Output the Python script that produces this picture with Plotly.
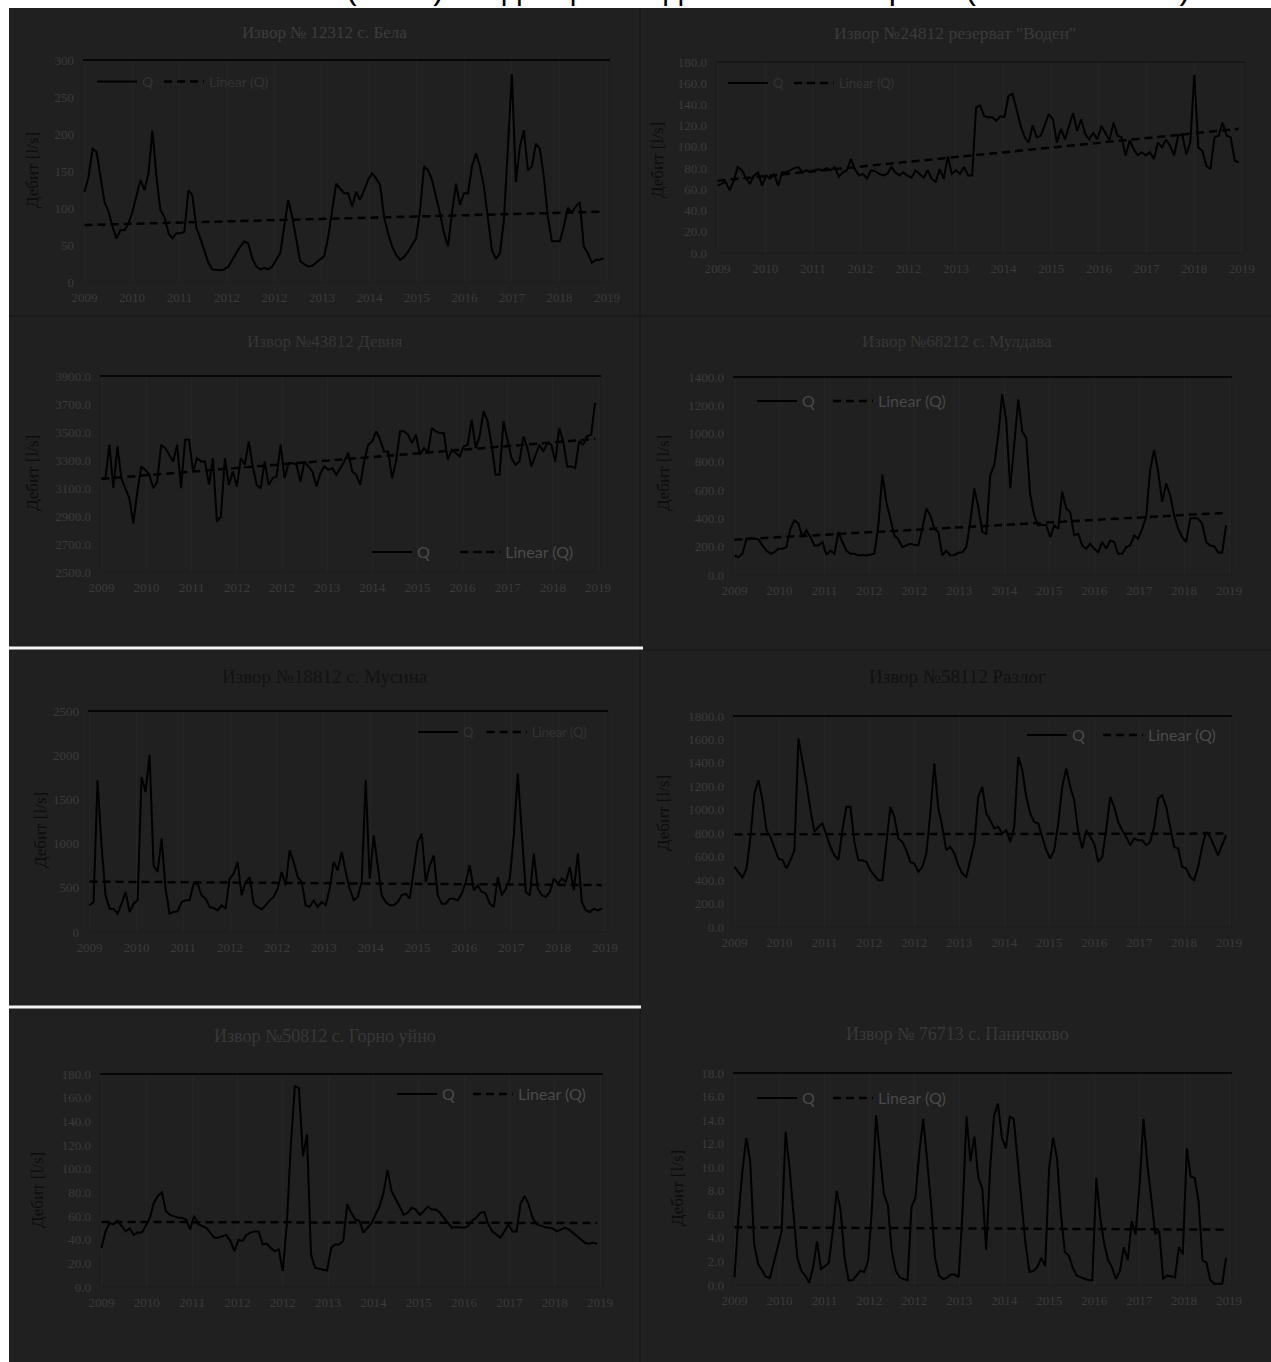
import numpy as np
import plotly.graph_objects as go

W, H = 1271, 1362

x_labels = ["2009", "2010", "2011", "2012", "2012", "2013", "2014", "2015", "2016", "2017", "2018", "2019"]
page_title = "Фиг. 26. Положителни (и без) тенденции на дебита на изворите (2009 – 2018 г.)"
y_title = "Дебит [l/s]"

titles = [
    "Извор № 12312 с. Бела",
    "Извор №24812 резерват \"Воден\"",
    "Извор №43812 Девня",
    "Извор №68212 с. Мулдава",
    "Извор №18812 с. Мусина",
    "Извор №58112 Разлог",
    "Извор №50812 с. Горно уйно",
    "Извор № 76713 с. Паничково",
]

q1 = [122, 142, 180, 176, 142, 108, 95, 75, 59, 70,
      70, 79, 95, 115, 138, 124, 147, 205, 142, 97,
      88, 66, 59, 66, 66, 68, 124, 117, 73, 59,
      43, 26, 17, 16, 16, 17, 21, 30, 39, 48,
      55, 52, 32, 21, 17, 19, 17, 21, 30, 39,
      75, 111, 88, 57, 28, 24, 21, 22, 26, 30,
      35, 61, 97, 133, 126, 120, 120, 102, 122, 111,
      124, 138, 147, 140, 131, 88, 66, 48, 37, 30,
      34, 41, 50, 59, 97, 156, 151, 138, 115, 93,
      66, 48, 93, 133, 104, 120, 120, 156, 174, 156,
      129, 88, 43, 31, 39, 84, 174, 281, 135, 183,
      205, 151, 156, 187, 180, 142, 88, 55, 55, 55,
      75, 100, 94, 102, 108, 48, 39, 26, 30, 30, 32]
q2 = [63.5, 65, 67, 59, 68, 81, 78, 71, 65, 73,
      76, 63.5, 73, 70, 74.5, 63.5, 76, 76, 78, 80,
      81, 76, 78, 76, 78, 79, 78, 80, 78, 81,
      72, 76, 78, 88.6, 79, 73, 74.5, 70, 78, 77,
      74.5, 73, 74.5, 81, 76, 73, 76, 73, 71, 78,
      74.5, 71, 78, 70, 67, 79, 70, 91, 74.5, 78,
      74.5, 81, 73, 73, 137, 139, 129, 128, 128, 124.6,
      129, 128, 148, 150, 135.5, 120, 109, 104, 120.5, 109,
      110.5, 120, 131, 126, 104, 117, 107, 120, 132, 115,
      126, 112, 107, 113.6, 107, 120, 113.6, 106, 123, 110.5,
      109, 92, 106, 98, 92, 95, 92, 95, 88.6, 104,
      99.5, 107, 101, 92, 110.5, 112, 93, 104, 168, 99.5,
      96, 82, 79, 109, 110.5, 123, 110.5, 109, 87, 85.5]
q3 = [3170, 3170, 3409, 3098, 3397, 3170, 3098, 3026, 2847, 3074,
      3254, 3230, 3194, 3098, 3146, 3409, 3385, 3337, 3290, 3409,
      3098, 3445, 3445, 3218, 3313, 3290, 3290, 3122, 3313, 2859,
      2895, 3313, 3122, 3218, 3110, 3313, 3266, 3433, 3254, 3122,
      3098, 3290, 3122, 3170, 3182, 3409, 3170, 3278, 3278, 3266,
      3146, 3290, 3254, 3218, 3110, 3206, 3254, 3230, 3242, 3194,
      3242, 3290, 3350, 3218, 3194, 3122, 3290, 3409, 3433, 3505,
      3445, 3361, 3361, 3170, 3290, 3505, 3505, 3481, 3421, 3481,
      3337, 3385, 3350, 3529, 3505, 3493, 3493, 3302, 3373, 3350,
      3326, 3397, 3409, 3589, 3385, 3469, 3649, 3577, 3409, 3194,
      3194, 3577, 3433, 3313, 3266, 3290, 3469, 3385, 3254, 3337,
      3409, 3361, 3421, 3409, 3290, 3529, 3433, 3254, 3254, 3242,
      3433, 3409, 3469, 3481, 3708]
q4 = [138, 126, 150, 256, 261, 256, 252, 209, 173, 150,
      161, 185, 185, 197, 327, 387, 363, 268, 316, 268,
      209, 209, 233, 142, 173, 150, 304, 233, 173, 150,
      150, 138, 142, 138, 142, 150, 351, 712, 517, 387,
      280, 252, 197, 209, 221, 214, 209, 327, 470, 422,
      327, 304, 138, 173, 138, 142, 157, 161, 197, 375,
      612, 482, 304, 292, 707, 778, 992, 1277, 1087, 612,
      944, 1241, 1016, 968, 565, 422, 351, 356, 351, 268,
      351, 327, 589, 470, 446, 280, 292, 209, 185, 221,
      185, 161, 233, 185, 244, 233, 150, 150, 197, 209,
      280, 256, 327, 411, 743, 885, 731, 517, 648, 565,
      422, 327, 268, 233, 399, 403, 399, 363, 233, 209,
      204, 161, 157, 351]
q5 = [302, 339, 1716, 980, 415, 264, 264, 207, 320, 452,
      226, 320, 358, 1753, 1584, 2006, 754, 679, 1056, 490,
      207, 226, 234, 339, 358, 358, 547, 547, 415, 377,
      283, 272, 245, 302, 264, 603, 660, 792, 415, 566,
      622, 320, 283, 256, 302, 358, 396, 490, 679, 528,
      924, 792, 622, 566, 302, 283, 358, 283, 339, 302,
      490, 792, 698, 905, 679, 490, 358, 396, 566, 1716,
      603, 1094, 754, 415, 339, 302, 302, 339, 415, 434,
      377, 717, 1018, 1112, 566, 754, 867, 415, 320, 320,
      377, 377, 358, 434, 566, 754, 471, 528, 452, 434,
      320, 283, 622, 415, 490, 603, 1094, 1791, 1094, 452,
      415, 886, 490, 415, 396, 452, 603, 547, 603, 566,
      735, 471, 886, 339, 245, 226, 264, 245, 264]
q6 = [513, 470, 421, 498, 769, 1139, 1253, 1082, 826, 769,
      684, 584, 570, 498, 570, 655, 1609, 1424, 1225, 997,
      812, 854, 883, 783, 684, 612, 570, 826, 1025, 1025,
      726, 570, 570, 555, 484, 441, 399, 399, 712, 1025,
      940, 755, 726, 655, 555, 541, 470, 513, 627, 968,
      1396, 1011, 854, 655, 684, 627, 527, 456, 427, 570,
      712, 1111, 1196, 968, 911, 840, 854, 797, 826, 726,
      854, 1452, 1339, 1111, 968, 897, 883, 769, 655, 584,
      655, 883, 1196, 1353, 1196, 1082, 812, 669, 826, 769,
      712, 555, 598, 826, 1111, 1025, 897, 826, 769, 698,
      755, 741, 741, 698, 726, 854, 1096, 1125, 1025, 854,
      684, 669, 513, 498, 427, 399, 513, 684, 812, 769,
      684, 612, 698, 783]
q7 = [33, 47, 54, 53, 56, 51, 47, 49.5, 44, 46,
      46, 51.5, 58.5, 71, 77, 80, 64, 61, 60, 58.5,
      58.5, 57, 48.7, 60, 53, 51.5, 50, 46, 41.6, 41.6,
      43, 44, 38.8, 30.4, 40, 38.8, 44, 46, 47, 47,
      36, 36.6, 33, 30.4, 31.8, 13.5, 53, 120, 169.6, 168,
      110.5, 128.8, 27.6, 16.3, 15.5, 15, 14, 33, 36, 36,
      38.8, 70, 62.7, 57, 56, 46, 50, 54, 61, 68,
      79.6, 99, 81, 75, 68, 61, 62.7, 67, 65.5, 61,
      64, 68, 65.5, 65.5, 62.7, 58.5, 54, 50, 50.6, 50.6,
      50, 51.5, 56, 58.5, 62.7, 63.5, 53, 47, 44, 41.6,
      47, 53, 47, 47, 70, 77, 70, 58.5, 53, 51.5,
      50.6, 50, 49.5, 47, 48.7, 50, 48.7, 46, 43, 40,
      37.4, 36.6, 37.4, 36.6]
q8 = [0.65, 5.7, 9.6, 12.5, 10.5, 3.5, 1.8, 1.2, 0.7, 0.6,
      1.8, 3.2, 4.6, 13.0, 9.9, 6.3, 2.3, 1.2, 0.8, 0.2,
      1.5, 3.7, 1.35, 1.6, 1.9, 4.6, 8.0, 6.3, 2.3, 0.4,
      0.4, 0.8, 1.2, 1.1, 2.1, 6.8, 14.4, 11.1, 7.7, 6.8,
      2.9, 1.2, 0.65, 0.5, 0.4, 6.6, 7.4, 11.3, 14.1, 10.5,
      6.8, 2.3, 0.8, 0.5, 0.6, 0.9, 0.9, 0.65, 6.3, 14.3,
      10.5, 12.6, 9.1, 8.2, 3.0, 9.9, 14.4, 15.4, 12.5, 11.6,
      14.3, 14.1, 10.5, 6.8, 3.5, 1.1, 1.2, 1.5, 2.3, 1.6,
      9.9, 12.5, 10.8, 6.0, 2.8, 2.5, 1.5, 0.8, 0.65, 0.5,
      0.4, 0.4, 9.1, 5.7, 3.5, 2.1, 1.5, 0.5, 1.2, 3.2,
      2.1, 5.4, 4.3, 8.5, 14.1, 10.2, 7.1, 4.3, 4.6, 0.5,
      0.8, 0.7, 0.65, 3.2, 2.6, 11.6, 9.2, 9.1, 7.1, 2.1,
      1.9, 0.4, 0.1, 0.1, 0.1, 2.3]

trend1 = [77, 95]
trend2 = [68, 117]
trend3 = [3165, 3450]
trend4 = [250, 440]
trend5 = [570, 530]
trend6 = [790, 797]
trend7 = [55, 54]
trend8 = [4.9, 4.7]

series = [q1, q2, q3, q4, q5, q6, q7, q8]
trends = [trend1, trend2, trend3, trend4, trend5, trend6, trend7, trend8]

# axis settings: (ymin, ymax, dtick, tickformat)
y_axes = [(0, 300, 50, "d"), (0, 180, 20, ".1f"), (2500, 3900, 200, ".1f"), (0, 1400, 200, ".1f"),
          (0, 2500, 500, "d"), (0, 1800, 200, ".1f"), (0, 180, 20, ".1f"), (0, 18, 2, ".1f")]

# ---------- layout (pixels) ----------
boxes = [(83, 610, 60, 282), (716, 1245, 62, 253), (100, 601, 376, 572), (733, 1232, 377, 575),
         (88, 608, 711, 932), (733, 1232, 716, 927), (100, 603, 1074, 1287), (733, 1232, 1073, 1285)]
title_pos = [(325, 33), (955, 33), (325, 341), (957, 341), (325, 676), (957, 676), (325, 1036), (957, 1034)]
title_size = [17, 17.5, 17, 17, 19, 19, 18, 18]
title_col = ["#3c3c3c", "#3a3a3a", "#363636", "#363636", "#121212", "#101010", "#383838", "#383838"]
ytitle_pos = [(33, 170), (657, 160), (33, 473), (664, 473), (40, 830), (663, 813), (37, 1190), (677, 1188)]
legend_pos = [(100, 82), (731, 83), (375, 552), (760, 401), (421, 732), (1030, 735), (400, 1094), (760, 1098)]
legend_col = ["#333333", "#333333", "#4a4a4a", "#484848", "#333333", "#4a4a4a", "#4a4a4a", "#4a4a4a"]
legend_size = [14, 13, 16, 16, 13, 16, 16, 16]
legend_gap = [0, 0, 5, 2, 1, 2, 2, 2]   # extra spacing after "Q" (non-breaking spaces)
top_line_col = ["#060606", "#181818", "#060606", "#060606", "#060606", "#060606", "#060606", "#060606"]

BG = "#202020"
TICK = "#3b3b3b"
SERIF = "Liberation Serif"


def px(x):
    return x / W


def py(y):
    return 1 - y / H


fig = go.Figure()
layout = dict(width=W, height=H, margin=dict(l=0, r=0, t=0, b=0, autoexpand=False),
              paper_bgcolor="white", plot_bgcolor="rgba(0,0,0,0)", showlegend=True)
shapes = []
annotations = []

shapes.append(dict(type="rect", xref="paper", yref="paper", x0=px(9), x1=1, y0=0, y1=py(8),
                   fillcolor=BG, line=dict(width=0), layer="below"))
shapes.append(dict(type="line", xref="paper", yref="paper", x0=px(640), x1=px(640), y0=0, y1=py(8),
                   line=dict(color="#1a1a1a", width=2), layer="below"))
shapes.append(dict(type="line", xref="paper", yref="paper", x0=px(9), x1=1, y0=py(316), y1=py(316),
                   line=dict(color="#1b1b1b", width=2), layer="below"))
shapes.append(dict(type="line", xref="paper", yref="paper", x0=px(643), x1=1, y0=py(650), y1=py(650),
                   line=dict(color="#1b1b1b", width=2), layer="below"))
shapes.append(dict(type="line", xref="paper", yref="paper", x0=px(9), x1=px(643), y0=py(648), y1=py(648),
                   line=dict(color="#f4f4f4", width=3), layer="below"))
shapes.append(dict(type="line", xref="paper", yref="paper", x0=px(9), x1=px(641), y0=py(1007), y1=py(1007),
                   line=dict(color="#f4f4f4", width=3), layer="below"))

for i in range(8):
    k = i + 1
    sfx = "" if k == 1 else str(k)
    xa, ya = "x" + sfx, "y" + sfx
    lg = "legend" + sfx
    q = series[i]
    n = len(q)
    xs = np.arange(n)
    x0, x1, yt, yb = boxes[i]
    ymin, ymax, dt, fmt = y_axes[i]

    fig.add_trace(go.Scatter(x=xs, y=q, mode="lines", name="Q" + "&nbsp;" * legend_gap[i],
                             xaxis=xa, yaxis=ya, legend=lg,
                             line=dict(color="black", width=2), hoverinfo="skip"))
    fig.add_trace(go.Scatter(x=[xs[0], xs[-1]], y=trends[i], mode="lines", name="Linear (Q)",
                             xaxis=xa, yaxis=ya, legend=lg,
                             line=dict(color="black", width=2.5, dash="8px,5px"), hoverinfo="skip"))

    tickvals = np.linspace(0, (n - 1) * 1.006, 12)
    layout["xaxis" + sfx] = dict(domain=[px(x0), px(x1)], anchor=ya, range=[-(n - 1) * 0.003, (n - 1) * 1.012],
                                 tickvals=tickvals, ticktext=x_labels, showgrid=True, gridcolor="#252525",
                                 gridwidth=1, zeroline=False, showline=False, ticks="", automargin=False,
                                 tickfont=dict(family=SERIF, size=13, color=TICK), ticklabelstandoff=6)
    layout["yaxis" + sfx] = dict(domain=[py(yb), py(yt)], anchor=xa, range=[ymin, ymax], dtick=dt, tick0=ymin,
                                 tickformat=fmt, showgrid=False, zeroline=False, showline=False, ticks="",
                                 automargin=False,
                                 tickfont=dict(family=SERIF, size=13, color=TICK), ticklabelstandoff=8)
    lx, ly = legend_pos[i]
    layout[lg] = dict(x=px(lx - 8), y=py(ly), xanchor="left", yanchor="middle", orientation="h",
                      bgcolor="rgba(0,0,0,0)",
                      font=dict(family="Lato", size=legend_size[i], color=legend_col[i]),
                      itemwidth=40, tracegroupgap=0)

    shapes.append(dict(type="rect", xref=xa + " domain", yref=ya + " domain", x0=0, x1=1, y0=0, y1=1,
                       line=dict(color="#1c1c1c", width=1), layer="below"))
    shapes.append(dict(type="line", xref=xa + " domain", yref=ya + " domain", x0=0, x1=1, y0=1, y1=1,
                       line=dict(color=top_line_col[i], width=2)))

    tx, ty = title_pos[i]
    annotations.append(dict(text=titles[i], xref="paper", yref="paper", x=px(tx), y=py(ty),
                            xanchor="center", yanchor="middle", showarrow=False,
                            font=dict(family=SERIF, size=title_size[i], color=title_col[i])))
    yx, yy = ytitle_pos[i]
    annotations.append(dict(text=y_title, xref="paper", yref="paper", x=px(yx), y=py(yy),
                            xanchor="center", yanchor="middle", showarrow=False, textangle=-90,
                            font=dict(family=SERIF, size=17, color="#0c0c0c")))

# page caption, cut off at the top edge as in the source
annotations.append(dict(text=page_title, xref="paper", yref="paper", x=px(602), y=py(8),
                        xanchor="center", yanchor="bottom", showarrow=False,
                        font=dict(family="Liberation Sans", size=32, color="black")))

layout["shapes"] = shapes
layout["annotations"] = annotations
fig.update_layout(**layout)
fig.write_html("out.html", config={"displayModeBar": False},
               post_script="document.body.style.margin='0px';document.body.style.overflow='hidden';")
